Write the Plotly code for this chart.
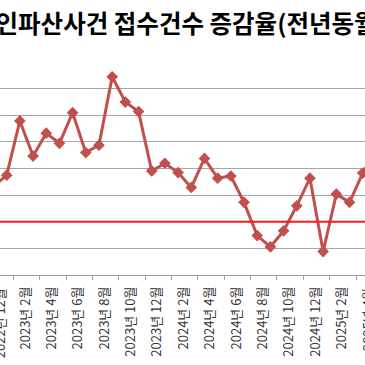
import plotly.graph_objects as go

# Months (category axis) – 2022-12 .. 2025-5
months = [
    "2022년 12월",
    "2023년 1월", "2023년 2월", "2023년 3월", "2023년 4월", "2023년 5월", "2023년 6월",
    "2023년 7월", "2023년 8월", "2023년 9월", "2023년 10월", "2023년 11월", "2023년 12월",
    "2024년 1월", "2024년 2월", "2024년 3월", "2024년 4월", "2024년 5월", "2024년 6월",
    "2024년 7월", "2024년 8월", "2024년 9월", "2024년 10월", "2024년 11월", "2024년 12월",
    "2025년 1월", "2025년 2월", "2025년 3월", "2025년 4월", "2025년 5월",
]
# Year-on-year change rate (%)
change_rate = [
    13.3,
    17.5, 37.9, 24.7, 33.3, 29.5, 41.0,
    26.0, 28.8, 54.5, 45.0, 41.4, 19.1,
    22.0, 18.5, 12.9, 23.8, 16.4, 17.2,
    7.3, -5.2, -9.4, -3.4, 6.0, 16.4,
    -11.2, 10.4, 7.3, 18.3, 27.0,
]
baseline = [0] * len(months)
tick_labels = months[::2]

title_text = "개인파산사건 접수건수 증감율(전년동월 대비)"

x_range = [0.492, 28.175]
label_shift = 0.42  # rotated labels sit slightly right of their category
month_index = list(range(len(months)))
label_font = dict(size=13, family="Noto Sans CJK KR", color="#333333")

label_pos = {m: months.index(m) + label_shift for m in tick_labels}
inside_labels = [m for m in tick_labels if x_range[0] <= label_pos[m] <= x_range[1]]
edge_labels = [m for m in tick_labels if m not in inside_labels]

fig = go.Figure()
fig.add_trace(go.Scatter(
    x=months, y=change_rate, mode="lines+markers",
    line=dict(color="#c0504d", width=3),
    marker=dict(symbol="diamond", size=9, color="#c0504d"),
    showlegend=False, hoverinfo="skip",
))
# zero reference line, on the overlay axis (drawn above the series)
fig.add_trace(go.Scatter(
    x=month_index, y=baseline, mode="lines", xaxis="x2", yaxis="y",
    line=dict(color="#ff1a1a", width=2),
    showlegend=False, hoverinfo="skip",
))

annotations = [dict(
    text=title_text, xref="paper", yref="paper",
    x=-29 / 365, y=1 + (61.7 - 22) / 213.3, xanchor="left", yanchor="middle",
    showarrow=False,
    font=dict(size=24.5, family="Noto Sans CJK KR", color="#000000", weight="bold"),
)]
# edge-clipped category labels, which the axis drops as out of range
for m in edge_labels:
    annotations.append(dict(
        text=m, xref="paper", yref="paper",
        x=(label_pos[m] - x_range[0]) / (x_range[1] - x_range[0]),
        y=-(287 - 274.7) / 213.3,
        xanchor="center", yanchor="top", textangle=-90,
        showarrow=False, font=label_font, borderpad=0,
    ))

fig.update_layout(
    width=365, height=365,
    margin=dict(l=0, r=0, t=61.7, b=90.3, pad=0),
    paper_bgcolor="white", plot_bgcolor="white",
    font=dict(family="Noto Sans CJK KR", color="#333333"),
    xaxis=dict(
        type="category", categoryorder="array", categoryarray=months,
        range=x_range, automargin=False,
        showticklabels=False, ticks="",
        showline=True, linecolor="#a0a0a0", linewidth=1,
        showgrid=False, zeroline=False,
    ),
    xaxis2=dict(
        type="linear", overlaying="x", anchor="y", side="bottom",
        range=x_range, automargin=False,
        tickmode="array",
        tickvals=[label_pos[m] for m in inside_labels],
        ticktext=inside_labels,
        tickangle=-90, ticks="", ticklen=0,
        ticklabelstandoff=8,
        tickfont=label_font,
        minor=dict(
            tickmode="array",
            tickvals=[months.index(m) - 0.5 for m in tick_labels],
            ticks="outside", ticklen=4, tickcolor="#a0a0a0", showgrid=False,
        ),
        showline=False, showgrid=False, zeroline=False,
    ),
    yaxis=dict(
        range=[-20, 60.05], dtick=10, tick0=0,
        showticklabels=False, ticks="",
        showgrid=True, gridcolor="#a6a6a6", gridwidth=1,
        zeroline=False, showline=False,
    ),
    annotations=annotations,
)

fig.write_html(
    "out.html",
    config={"displayModeBar": False},
    post_script="document.body.style.margin='0';document.body.style.overflow='hidden';",
)
